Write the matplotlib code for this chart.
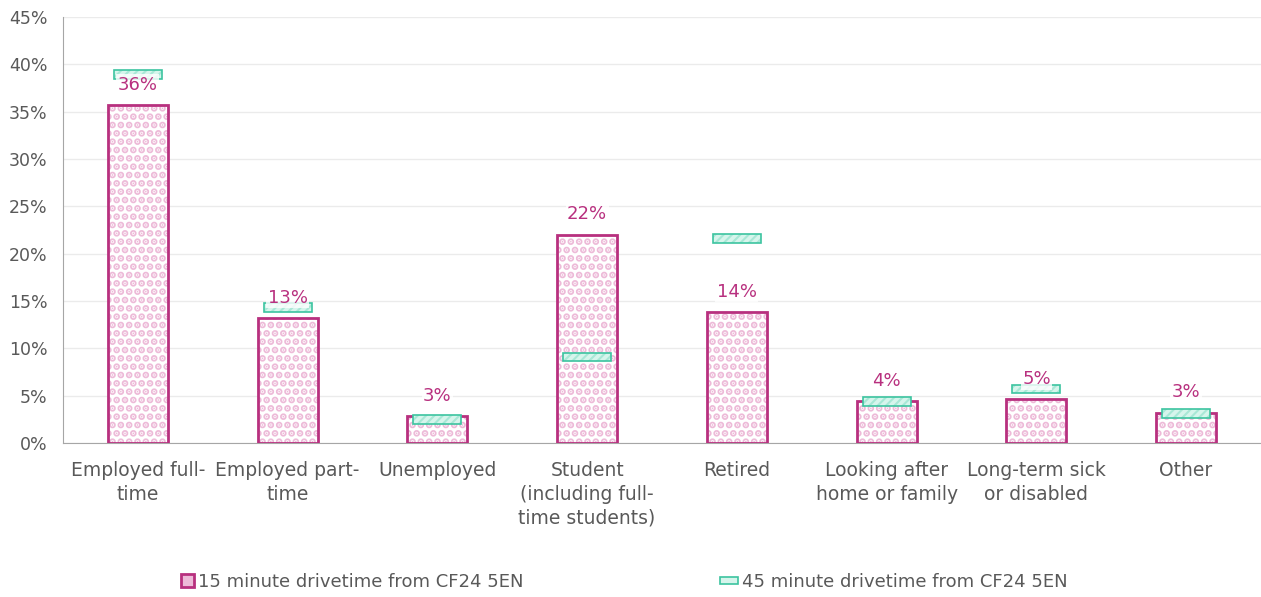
import matplotlib.pyplot as plt
import numpy as np
from matplotlib.patches import Patch

categories = ["Employed full-\ntime", "Employed part-\ntime", "Unemployed",
              "Student\n(including full-\ntime students)", "Retired",
              "Looking after\nhome or family", "Long-term sick\nor disabled", "Other"]
drive_15 = [35.7, 13.2, 2.8, 22.0, 13.8, 4.4, 4.6, 3.2]
drive_45 = [38.9, 14.3, 2.5, 9.1, 21.6, 4.4, 5.7, 3.1]
labels_15 = ["36%", "13%", "3%", "22%", "14%", "4%", "5%", "3%"]
series_names = ["15 minute drivetime from CF24 5EN", "45 minute drivetime from CF24 5EN"]

pink = "#B8307F"
pink_light = "#EDBAD8"
teal = "#3CC4A0"
teal_light = "#D6F5EC"
grey = "#595959"

plt.rcParams['font.family'] = ['DejaVu Sans']
plt.rcParams['hatch.linewidth'] = 3.5

fig = plt.figure(figsize=(12.61, 5.97), dpi=100)
ax = fig.add_axes([63 / 1261, 1 - 443 / 597, 1 - 63 / 1261, (443 - 17) / 597])

x = np.arange(len(categories))

# 15 minute bars: dotted fill + outline
ax.bar(x, drive_15, width=0.4, facecolor="white", edgecolor=pink_light,
       hatch="..", linewidth=0, zorder=2)
ax.bar(x, drive_15, width=0.4, facecolor="none", edgecolor=pink,
       linewidth=2, zorder=3)

# 45 minute markers
mh = 0.9
plt.rcParams['hatch.linewidth'] = 1.5
ax.bar(x, mh, bottom=np.array(drive_45) - mh / 2, width=0.32,
       facecolor=teal_light, edgecolor="#A8E8D6", hatch="////", linewidth=0, zorder=4)
ax.bar(x, mh, bottom=np.array(drive_45) - mh / 2, width=0.32,
       facecolor="none", edgecolor=teal, linewidth=1.2, zorder=5)

for xi, v, lab in zip(x, drive_15, labels_15):
    ax.text(xi, v + 1.2, lab, ha="center", va="bottom", color=pink, fontsize=13,
            zorder=6, bbox=dict(facecolor="white", edgecolor="none", alpha=0.8, pad=1))

ax.set_ylim(0, 45)
ax.set_xlim(-0.5, len(categories) - 0.5)
ax.set_yticks(np.arange(0, 46, 5))
ax.set_yticklabels([f"{t}%" for t in range(0, 46, 5)], fontsize=12.5)
ax.set_xticks(x)
ax.set_xticklabels(categories, fontsize=13.5, linespacing=1.3)
ax.tick_params(axis="both", length=0, colors=grey)
ax.tick_params(axis="x", pad=13)
ax.tick_params(axis="y", pad=11)
ax.grid(axis="y", color="#EBEBEB", linewidth=1, zorder=0)
ax.set_axisbelow(True)
for s in ["top", "right"]:
    ax.spines[s].set_visible(False)
ax.spines["left"].set_color("#A6A6A6")
ax.spines["bottom"].set_color("#A6A6A6")

h1 = Patch(facecolor=pink_light, edgecolor=pink, linewidth=2)
h2 = Patch(facecolor=teal_light, edgecolor=teal, linewidth=1.2)
fig.legend([h1], [series_names[0]], loc="center left", bbox_to_anchor=(165 / 1261, 1 - 582 / 597),
           frameon=False, fontsize=13, labelcolor=grey, handlelength=0.7,
           handleheight=0.7, handletextpad=0.2)
fig.legend([h2], [series_names[1]], loc="center left", bbox_to_anchor=(704 / 1261, 1 - 582 / 597),
           frameon=False, fontsize=13, labelcolor=grey, handlelength=1.0,
           handleheight=0.25, handletextpad=0.2)

fig.savefig("out.png", dpi=100)
